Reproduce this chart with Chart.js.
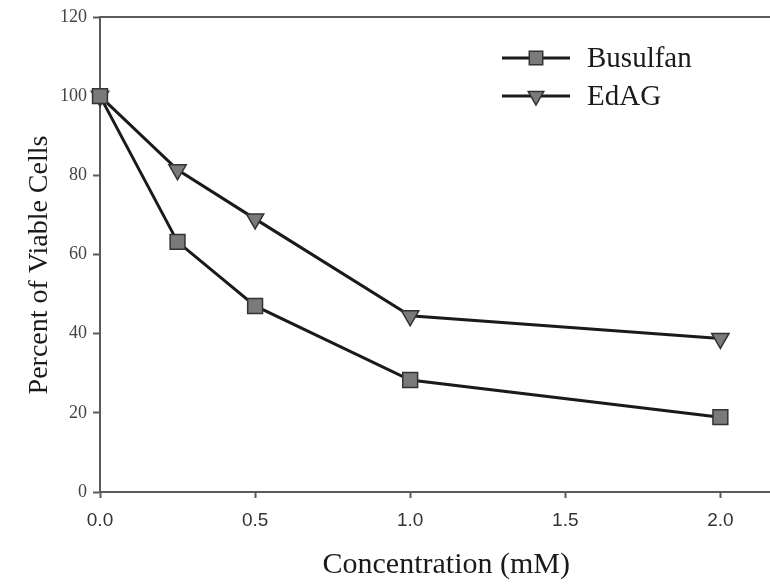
<!DOCTYPE html>
<html>
<head>
<meta charset="utf-8">
<title>Percent of Viable Cells</title>
<script src="https://cdn.jsdelivr.net/npm/chart.js@4/dist/chart.umd.min.js"></script>
<style>
  html, body { margin: 0; padding: 0; background: #fff; }
  #chart { display: block; }
</style>
</head>
<body>
<canvas id="chart" width="770" height="585"></canvas>
<script>
// ====== DATA ======
const concentrations = [0, 0.25, 0.5, 1.0, 2.0];
const busulfanValues = [100, 63.2, 47, 28.3, 18.9];
const edagValues = [100, 81.4, 69, 44.5, 38.8];
const seriesLabels = ['Busulfan', 'EdAG'];
const xTicks = [0, 0.5, 1.0, 1.5, 2.0];
const yTicks = [0, 20, 40, 60, 80, 100, 120];

const axisColor = '#5a5a5a';
const serif = "'Liberation Serif', 'Times New Roman', serif";
const sans = "'Liberation Sans', Arial, sans-serif";

function toPoints(values) {
    return concentrations.map((x, i) => ({ x: x, y: values[i] }));
}

// no label overhang padding on the horizontal axes
function noSidePadding(scale) {
    scale.paddingLeft = 0;
    scale.paddingRight = 0;
}

// ====== LEGEND (line + marker, drawn inside the plot) ======
const lineLegend = {
    id: 'lineLegend',
    afterDraw(chart, args, opts) {
        const ctx = chart.ctx;
        const area = chart.chartArea;
        const x0 = area.right - opts.right;
        ctx.save();
        chart.data.datasets.forEach((ds, i) => {
            const y = area.top + opts.top + i * opts.rowGap;
            ctx.strokeStyle = ds.borderColor;
            ctx.lineWidth = ds.borderWidth;
            ctx.beginPath();
            ctx.moveTo(x0, y);
            ctx.lineTo(x0 + opts.lineLength, y);
            ctx.stroke();
            ctx.fillStyle = ds.pointBackgroundColor;
            ctx.strokeStyle = ds.pointBorderColor;
            ctx.lineWidth = ds.pointBorderWidth;
            Chart.helpers.drawPoint(ctx, {
                pointStyle: ds.pointStyle,
                rotation: ds.pointRotation || 0,
                radius: ds.pointRadius - 1,
                borderWidth: ds.pointBorderWidth
            }, x0 + opts.lineLength / 2, y);
            ctx.fillStyle = '#1a1a1a';
            ctx.font = opts.font;
            ctx.textAlign = 'left';
            ctx.textBaseline = 'middle';
            ctx.fillText(ds.label, x0 + opts.lineLength + opts.textGap, y + 1);
        });
        ctx.restore();
    }
};

new Chart(document.getElementById('chart'), {
    type: 'line',
    data: {
        datasets: [
            {
                label: seriesLabels[0],
                data: toPoints(busulfanValues),
                borderColor: '#1a1a1a',
                borderWidth: 3,
                pointStyle: 'rect',
                pointRadius: 10.5,
                pointBackgroundColor: '#7a7a7a',
                pointBorderColor: '#333',
                pointBorderWidth: 1.5,
                tension: 0,
                clip: false
            },
            {
                label: seriesLabels[1],
                data: toPoints(edagValues),
                borderColor: '#1a1a1a',
                borderWidth: 3,
                pointStyle: 'triangle',
                pointRotation: 180,
                pointRadius: 10,
                pointBackgroundColor: '#7a7a7a',
                pointBorderColor: '#333',
                pointBorderWidth: 1.5,
                tension: 0,
                clip: false
            }
        ]
    },
    options: {
        responsive: false,
        animation: false,
        layout: { autoPadding: false, padding: { top: 17, right: 0, left: 0, bottom: 0 } },
        plugins: {
            legend: { display: false },
            tooltip: { enabled: false },
            lineLegend: {
                right: 268,
                top: 41,
                rowGap: 38,
                lineLength: 68,
                textGap: 17,
                font: '29px ' + serif
            }
        },
        scales: {
            x: {
                type: 'linear',
                position: 'bottom',
                min: 0,
                max: 2.16,
                afterBuildTicks: (scale) => { scale.ticks = xTicks.map(v => ({ value: v })); },
                afterFit: (scale) => { scale.height = 93; noSidePadding(scale); },
                ticks: {
                    color: '#333',
                    font: { family: sans, size: 19 },
                    padding: 11,
                    callback: (v) => Number(v).toFixed(1)
                },
                grid: { drawOnChartArea: false, drawTicks: true, tickLength: 6, color: axisColor, tickWidth: 2 },
                border: { display: true, color: axisColor, width: 2 },
                title: {
                    display: true,
                    // leading spaces move the title slightly right, as in the original
                    text: '   Concentration (mM)',
                    color: '#1a1a1a',
                    font: { family: serif, size: 30, lineHeight: 1.2 },
                    padding: { top: 0, bottom: 2 }
                }
            },
            x2: {
                type: 'linear',
                position: 'top',
                min: 0,
                max: 2.16,
                afterFit: (scale) => { scale.height = 0; noSidePadding(scale); },
                ticks: { display: false },
                grid: { display: false, drawTicks: false },
                border: { display: true, color: axisColor, width: 2 }
            },
            y: {
                type: 'linear',
                min: 0,
                max: 120,
                afterBuildTicks: (scale) => { scale.ticks = yTicks.map(v => ({ value: v })); },
                afterFit: (scale) => { scale.width = 100; },
                ticks: {
                    color: '#444',
                    font: { family: serif, size: 18 },
                    padding: 6
                },
                grid: { drawOnChartArea: false, drawTicks: true, tickLength: 7, color: axisColor, tickWidth: 2 },
                border: { display: true, color: axisColor, width: 2 },
                title: {
                    display: true,
                    // trailing spaces nudge the rotated title down a little, as in the original
                    text: 'Percent of Viable Cells   ',
                    color: '#1a1a1a',
                    font: { family: serif, size: 28, lineHeight: 1.2 },
                    padding: { top: 23, bottom: 0 }
                }
            }
        }
    },
    plugins: [lineLegend]
});
</script>
</body>
</html>
